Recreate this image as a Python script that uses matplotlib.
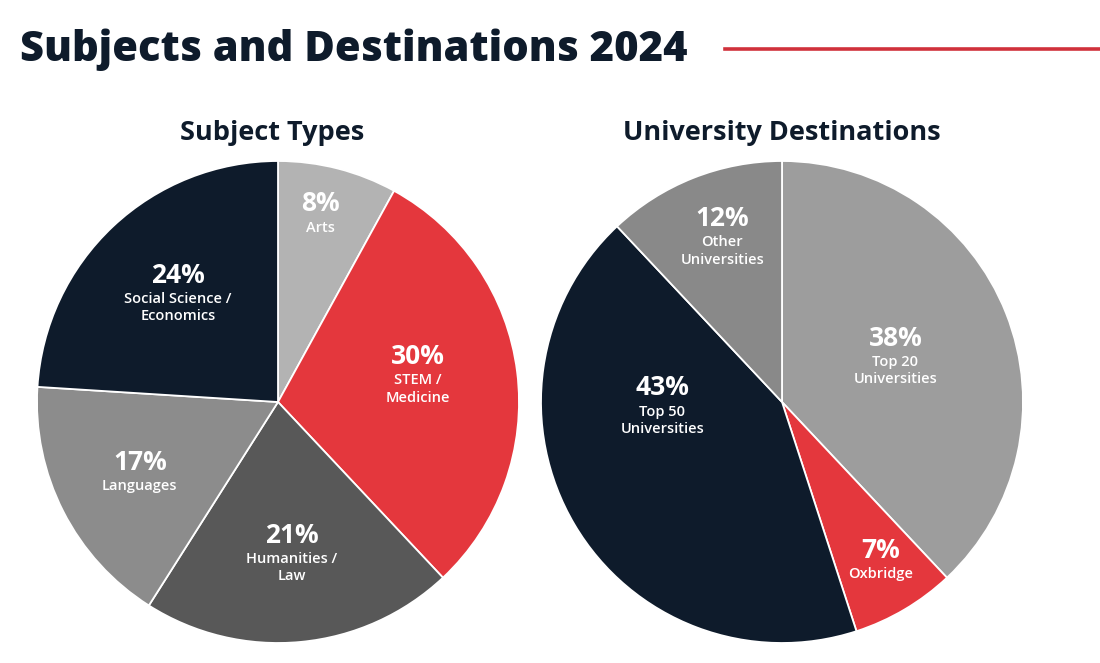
import numpy as np
import matplotlib
matplotlib.use("Agg")
import matplotlib.pyplot as plt

# data (clockwise from 12 o'clock)
subj_names = ["Arts", "STEM /\nMedicine", "Humanities /\nLaw", "Languages", "Social Science /\nEconomics"]
subj_vals = [8, 30, 21, 17, 24]
dest_names = ["Top 20\nUniversities", "Oxbridge", "Top 50\nUniversities", "Other\nUniversities"]
dest_vals = [38, 7, 43, 12]

NAVY = "#0e1b2b"
RED = "#e4373d"
subj_cols = ["#b3b3b3", RED, "#585858", "#8c8c8c", NAVY]
dest_cols = ["#9d9d9d", RED, NAVY, "#898989"]

# label placement: (radius fraction, angle shift from wedge middle in degrees)
subj_lab = [(0.84, 2.4), (0.61, 10.7), (0.555, 0.6), (0.625, -3.5), (0.67, -5.0)]
dest_lab = [(0.54, 7.7), (0.74, 2.9), (0.50, -37.3), (0.80, -3.6)]

plt.rcParams["font.family"] = ["Open Sans", "DejaVu Sans"]

W, H = 1100, 663
fig = plt.figure(figsize=(W / 100, H / 100), dpi=100)
fig.patch.set_facecolor("white")


def trace_pie(box, vals, names, cols, lab, titre, dx_titre):
    x0, y0, d = box  # pixel box: left, top, diameter
    ax = fig.add_axes([x0 / W, 1 - (y0 + d) / H, d / W, d / H])
    wedges, _ = ax.pie(vals, colors=cols, startangle=90, counterclock=False,
                       radius=1, wedgeprops=dict(edgecolor="white", linewidth=1.3))
    ax.set_xlim(-1, 1)
    ax.set_ylim(-1, 1)
    ax.set_aspect("auto")
    ax.axis("off")
    for w, v, n, (rf, sh) in zip(wedges, vals, names, lab):
        a = np.radians((w.theta1 + w.theta2) / 2 + sh)
        x, y = rf * np.cos(a), rf * np.sin(a)
        ax.text(x, y, "{0}%".format(v), ha="center", va="center", color="white",
                fontsize=19, fontweight="bold")
        ax.annotate(n, (x, y), xytext=(0, -12), textcoords="offset points",
                    ha="center", va="top", color="white", fontsize=10.5,
                    fontweight="semibold", linespacing=1.3)
    fig.text((x0 + d / 2 + dx_titre) / W, 1 - 133 / H, titre, ha="center", va="center",
             color=NAVY, fontsize=19.5, fontweight="bold")
    return ax


trace_pie((37, 161, 482), subj_vals, subj_names, subj_cols, subj_lab, "Subject Types", -6)
trace_pie((541, 161, 482), dest_vals, dest_names, dest_cols, dest_lab, "University Destinations", 0)

fig.text(20 / W, 1 - 50 / H, "Subjects and Destinations 2024", ha="left", va="center",
         color=NAVY, fontsize=30, fontweight="heavy")
fig.add_artist(plt.Line2D([725 / W, 1.0], [1 - 49 / H, 1 - 49 / H], color="#d0313b", lw=2.6))

fig.savefig("out.png", dpi=100)
